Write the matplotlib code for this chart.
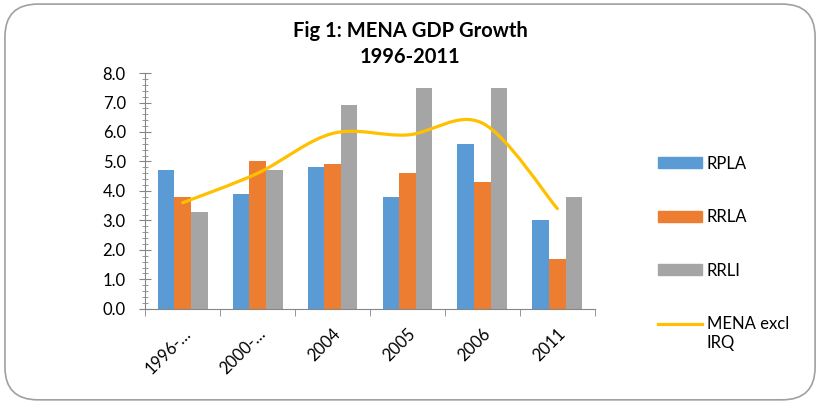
import numpy as np
import matplotlib.pyplot as plt
from matplotlib.path import Path
from matplotlib.patches import PathPatch, FancyBboxPatch, Patch
from matplotlib.lines import Line2D
import matplotlib.transforms as mtransforms

plt.rcParams['font.family'] = ['Lato', 'DejaVu Sans']

categories = ['1996-…', '2000-…', '2004', '2005', '2006', '2011']
rpla = [4.7, 3.9, 4.8, 3.8, 5.6, 3.0]
rrla = [3.8, 5.0, 4.9, 4.6, 4.3, 1.7]
rrli = [3.3, 4.7, 6.9, 7.5, 7.5, 3.8]
mena = [3.6, 4.6, 5.95, 5.9, 6.3, 3.4]

c_blue = '#5B9BD5'
c_orange = '#ED7D31'
c_gray = '#A5A5A5'
c_yellow = '#FFC000'


def smooth_path(xs, ys):
    # excel-like smoothed line: catmull-rom segments as cubic beziers
    pts = np.column_stack([xs, ys]).astype(float)
    n = len(pts)
    verts = [pts[0]]
    codes = [Path.MOVETO]
    for i in range(n - 1):
        p0 = pts[i - 1] if i > 0 else pts[i]
        p1 = pts[i]
        p2 = pts[i + 1]
        p3 = pts[i + 2] if i + 2 < n else pts[i + 1]
        c1 = p1 + (p2 - p0) / 6.0
        c2 = p2 - (p3 - p1) / 6.0
        verts += [c1, c2, p2]
        codes += [Path.CURVE4] * 3
    return Path(verts, codes)


fig = plt.figure(figsize=(8.25, 4.08), dpi=100)
ax = fig.add_axes([0.176, 0.243, 0.545, 0.578])

x = np.arange(len(categories))
w = 0.222
ax.bar(x - w, rpla, w, color=c_blue, label='RPLA')
ax.bar(x, rrla, w, color=c_orange, label='RRLA')
ax.bar(x + w, rrli, w, color=c_gray, label='RRLI')

line = PathPatch(smooth_path(x, mena), facecolor='none', edgecolor=c_yellow,
                 lw=2.3, capstyle='round', zorder=3)
ax.add_patch(line)

ax.set_xlim(-0.5, len(categories) - 0.5)
ax.set_ylim(0, 8)
ax.set_yticks(np.arange(0, 8.1, 1))
ax.set_yticklabels(['%.1f' % v for v in np.arange(0, 8.1, 1)])
ax.set_yticks(np.arange(0, 8.01, 0.2), minor=True)
ax.set_xticks(x)
ax.set_xticklabels(categories, rotation=45, ha='right', va='top',
                   rotation_mode='anchor')
ax.set_xticks(np.arange(-0.5, len(categories), 0.5), minor=True)
offset = mtransforms.ScaledTranslation(7 / 100, 0, fig.dpi_scale_trans)
for lbl in ax.get_xticklabels():
    lbl.set_transform(lbl.get_transform() + offset)

for s in ['top', 'right']:
    ax.spines[s].set_visible(False)
for s in ['left', 'bottom']:
    ax.spines[s].set_color('#868686')
ax.tick_params(axis='y', which='major', direction='inout', length=8,
               color='#868686', labelsize=12, pad=10)
ax.tick_params(axis='y', which='minor', direction='inout', length=5,
               color='#868686')
ax.tick_params(axis='x', which='major', length=0, labelsize=12, pad=12)
ax.tick_params(axis='x', which='minor', direction='out', length=5,
               color='#868686')

fig.text(0.497, 0.925, 'Fig 1: MENA GDP Growth', ha='center', va='center',
         fontsize=14.5, fontweight='bold')
fig.text(0.497, 0.860, '1996-2011', ha='center', va='center',
         fontsize=14.5, fontweight='bold')

handles = [Patch(color=c_blue), Patch(color=c_orange), Patch(color=c_gray),
           Line2D([0], [0], color=c_yellow, lw=2.3)]
labels = ['RPLA', 'RRLA', 'RRLI', 'MENA excl']
leg = fig.legend(handles, labels, loc='upper left',
                 bbox_to_anchor=(0.790, 0.635), frameon=False, fontsize=12,
                 handlelength=2.6, handleheight=0.6, labelspacing=2.25,
                 handletextpad=0.3, borderaxespad=0)

# second line of the wrapped legend label
fig.canvas.draw()
bb = leg.get_texts()[-1].get_window_extent().transformed(fig.transFigure.inverted())
fig.text(bb.x0, bb.y0 - 0.008, 'IRQ', ha='left', va='top', fontsize=12)

border = FancyBboxPatch((0.006, 0.02), 0.982, 0.97,
                        boxstyle='round,pad=0,rounding_size=0.04',
                        transform=fig.transFigure, facecolor='none',
                        edgecolor='#A0A0A0', lw=1.2, mutation_aspect=2.0)
fig.patches.append(border)

fig.savefig('out.png', dpi=100)
